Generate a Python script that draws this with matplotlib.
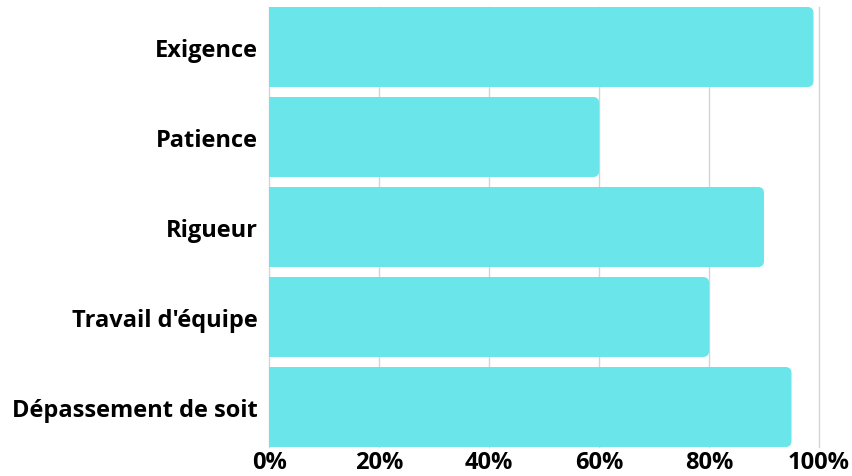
import matplotlib.pyplot as plt
from matplotlib.patches import FancyBboxPatch
from matplotlib.ticker import FuncFormatter

plt.rcParams['font.family'] = ['Open Sans', 'DejaVu Sans']

# données
qualites = ['Exigence', 'Patience', 'Rigueur', "Travail d'équipe", 'Dépassement de soit']
valeurs = [99, 60, 90, 80, 95]
ticks = [0, 20, 40, 60, 80, 100]

couleur = '#6ae5e9'
h = 80 / 90

fig = plt.figure(figsize=(8.53, 4.77), dpi=100)
ax = fig.add_axes([269.3 / 853, 1 - 448 / 477, (819 - 269.3) / 853, 440 / 477])

bars = ax.barh(range(len(qualites)), valeurs, height=h, color=couleur, zorder=2)

# coins arrondis à droite
r = 1.1
for b in bars:
    x, y = b.get_x(), b.get_y()
    w, hh = b.get_width(), b.get_height()
    b.set_visible(False)
    p = FancyBboxPatch((x - 5, y), w + 5, hh,
                       boxstyle=f'round,pad=0,rounding_size={r}',
                       mutation_aspect=0.067 / r,
                       facecolor=couleur, edgecolor='none', zorder=2)
    ax.add_patch(p)

ax.set_xlim(0, 100)
ax.set_ylim(len(qualites) - 1 + h / 2, -h / 2)
ax.set_xticks(ticks)
ax.xaxis.set_major_formatter(FuncFormatter(lambda v, p: f'{v:.0f}%'))
ax.set_yticks(range(len(qualites)))
ax.set_yticklabels(qualites)

ax.grid(axis='x', color='#d4d4d4', linewidth=1, zorder=0)
for gl in ax.get_xgridlines():
    gl.set_clip_on(False)
ax.set_axisbelow(True)
for s in ax.spines.values():
    s.set_visible(False)
ax.tick_params(length=0, labelsize=17, labelcolor='black')
ax.tick_params(axis='y', pad=8)
ax.tick_params(axis='x', pad=2)
for lab in ax.get_xticklabels() + ax.get_yticklabels():
    lab.set_fontweight('bold')

fig.savefig('out.png', dpi=100)
